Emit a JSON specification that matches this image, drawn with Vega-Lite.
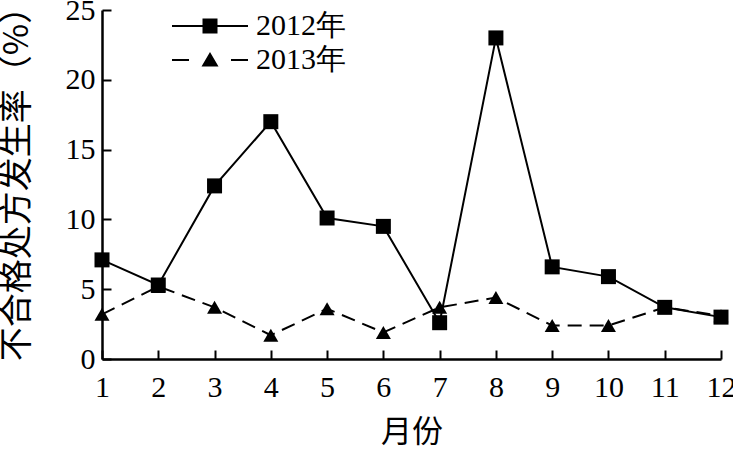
{
  "$schema": "https://vega.github.io/schema/vega-lite/v6.json",
  "width": 619,
  "height": 349,
  "autosize": "none",
  "padding": {"left": 102, "top": 10, "right": 12, "bottom": 90},
  "background": "white",
  "config": {"view": {"stroke": null}},
  "data": {"values": [
    {"month": 1, "year": "2012年", "rate": 7.1},
    {"month": 2, "year": "2012年", "rate": 5.3},
    {"month": 3, "year": "2012年", "rate": 12.4},
    {"month": 4, "year": "2012年", "rate": 17.0},
    {"month": 5, "year": "2012年", "rate": 10.1},
    {"month": 6, "year": "2012年", "rate": 9.5},
    {"month": 7, "year": "2012年", "rate": 2.6},
    {"month": 8, "year": "2012年", "rate": 23.0},
    {"month": 9, "year": "2012年", "rate": 6.6},
    {"month": 10, "year": "2012年", "rate": 5.9},
    {"month": 11, "year": "2012年", "rate": 3.7},
    {"month": 12, "year": "2012年", "rate": 3.0},
    {"month": 1, "year": "2013年", "rate": 3.2},
    {"month": 2, "year": "2013年", "rate": 5.2},
    {"month": 3, "year": "2013年", "rate": 3.7},
    {"month": 4, "year": "2013年", "rate": 1.7},
    {"month": 5, "year": "2013年", "rate": 3.6},
    {"month": 6, "year": "2013年", "rate": 1.9},
    {"month": 7, "year": "2013年", "rate": 3.7},
    {"month": 8, "year": "2013年", "rate": 4.4},
    {"month": 9, "year": "2013年", "rate": 2.4},
    {"month": 10, "year": "2013年", "rate": 2.4},
    {"month": 11, "year": "2013年", "rate": 3.7},
    {"month": 12, "year": "2013年", "rate": 3.1}
  ]},
  "encoding": {
    "x": {"field": "month", "type": "quantitative", "title": "月份",
      "scale": {"domain": [1, 12], "nice": false, "zero": false},
      "axis": {"values": [1,2,3,4,5,6,7,8,9,10,11,12], "grid": false,
        "domainColor": "black", "domainWidth": 2.5, "tickColor": "black", "tickWidth": 2,
        "tickSize": -9, "labelPadding": 22, "labelFlush": false,
        "labelFont": "Liberation Serif, Times New Roman, serif", "labelFontSize": 30, "labelColor": "black",
        "titleFont": "Noto Sans CJK SC", "titleFontSize": 31, "titleFontWeight": "normal", "titleColor": "black",
        "titleBaseline": "middle", "titleY": 73}},
    "y": {"field": "rate", "type": "quantitative", "title": "不合格处方发生率（%）",
      "scale": {"domain": [0, 25], "nice": false},
      "axis": {"values": [0,5,10,15,20,25], "grid": false,
        "domainColor": "black", "domainWidth": 2.5, "tickColor": "black", "tickWidth": 2,
        "tickSize": -9, "labelPadding": 16, "labelFlush": false,
        "labelFont": "Liberation Serif, Times New Roman, serif", "labelFontSize": 30, "labelColor": "black",
        "titleFont": "Noto Sans CJK SC", "titleFontSize": 34, "titleFontWeight": "normal", "titleColor": "black",
        "titleBaseline": "middle", "titleX": -85, "titleY": 165}}
  },
  "layer": [
    {
      "transform": [{"filter": "datum.year == '2012年'"}],
      "mark": {"type": "line", "color": "black", "strokeWidth": 2},
      "encoding": {}
    },
    {
      "transform": [{"filter": "datum.year == '2013年'"}],
      "mark": {"type": "line", "color": "black", "strokeWidth": 2, "strokeDash": [14, 8]},
      "encoding": {}
    },
    {
      "transform": [{"filter": "datum.year == '2012年'"}],
      "mark": {"type": "point", "shape": "square", "filled": true, "color": "black", "opacity": 1, "size": 225},
      "encoding": {}
    },
    {
      "transform": [{"filter": "datum.year == '2013年'"}],
      "mark": {"type": "point", "shape": "triangle-up", "filled": true, "color": "black", "opacity": 1, "size": 225},
      "encoding": {}
    },
    {
      "mark": {"type": "point", "filled": true, "color": "black", "opacity": 0, "size": 400},
      "encoding": {
        "shape": {"field": "year", "type": "nominal",
          "scale": {"domain": ["2012年", "2013年"], "range": [
            "M-3.8,-0.1H3.8V0.1H-3.8Z M-0.75,-0.75H0.75V0.75H-0.75Z",
            "M-3.8,-0.1H-2.1V0.1H-3.8Z M2.1,-0.1H3.8V0.1H2.1Z M0,-0.8L0.85,0.65L-0.85,0.65Z"]},
          "legend": {
            "title": null, "orient": "none", "legendX": 93, "legendY": 1,
            "symbolSize": 400, "symbolStrokeWidth": 0, "symbolFillColor": "black", "symbolOpacity": 1,
            "labelFont": "Liberation Serif, Times New Roman, serif", "labelFontSize": 30, "labelColor": "black",
            "labelOffset": 31, "rowPadding": 4, "padding": 0,
            "encode": {
              "symbols": {"update": {"opacity": {"value": 1}, "fill": {"value": "black"}, "strokeWidth": {"value": 0}}}
            }
          }
        }
      }
    }
  ]
}
